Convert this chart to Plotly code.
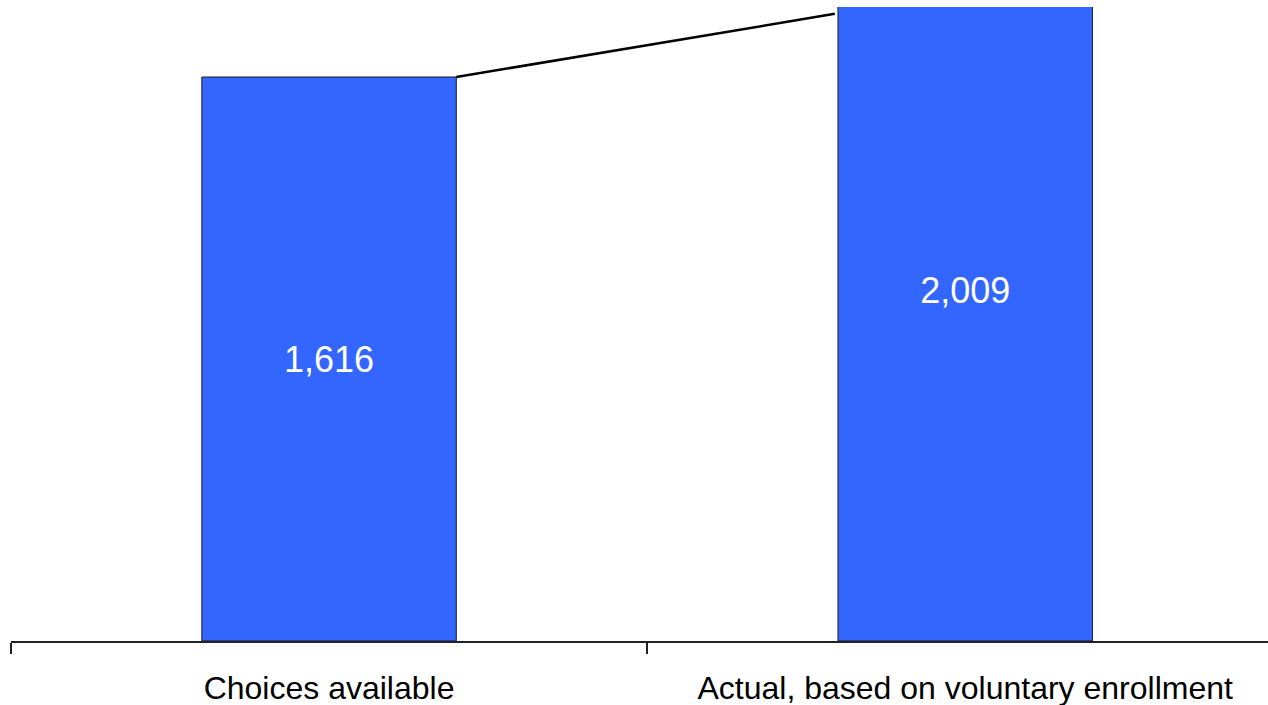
import plotly.graph_objects as go

categories = ["Choices available", "Actual, based on voluntary enrollment"]
values = [1616, 2009]
value_labels = ["1,616", "2,009"]
# connector from the top of the first bar toward the second bar
connector_x = [0.2, 0.795]
connector_y = [1616, 1797]

fig = go.Figure()
fig.add_trace(go.Bar(
    x=categories,
    y=values,
    text=value_labels,
    textposition="inside",
    insidetextanchor="middle",
    textangle=0,
    textfont=dict(family="Liberation Sans, Arial, sans-serif", size=36, color="white"),
    marker=dict(color="#3366FF", line=dict(color="#1a1a1a", width=1)),
    width=0.4,
    hoverinfo="skip",
))
fig.add_trace(go.Scatter(
    x=connector_x,
    y=connector_y,
    xaxis="x2",
    mode="lines",
    line=dict(color="black", width=2.5),
    hoverinfo="skip",
))

fig.update_layout(
    width=1268,
    height=705,
    margin=dict(l=11, r=0, t=7, b=64),
    paper_bgcolor="white",
    plot_bgcolor="white",
    showlegend=False,
    uniformtext=dict(minsize=10, mode=False),
    xaxis=dict(
        type="category",
        range=[-0.5, 1.476],
        tickson="boundaries",
        ticks="outside",
        ticklen=11,
        tickwidth=1.5,
        tickcolor="#222",
        showline=True,
        linecolor="#222",
        linewidth=1.5,
        showgrid=False,
        zeroline=False,
        tickfont=dict(family="Liberation Sans, Arial, sans-serif", size=32, color="black"),
        ticklabelstandoff=18,
    ),
    xaxis2=dict(
        overlaying="x",
        range=[-0.5, 1.476],
        visible=False,
    ),
    yaxis=dict(
        range=[0, 1816.6],
        visible=False,
        showgrid=False,
        zeroline=False,
    ),
)

fig.write_html("out.html")
